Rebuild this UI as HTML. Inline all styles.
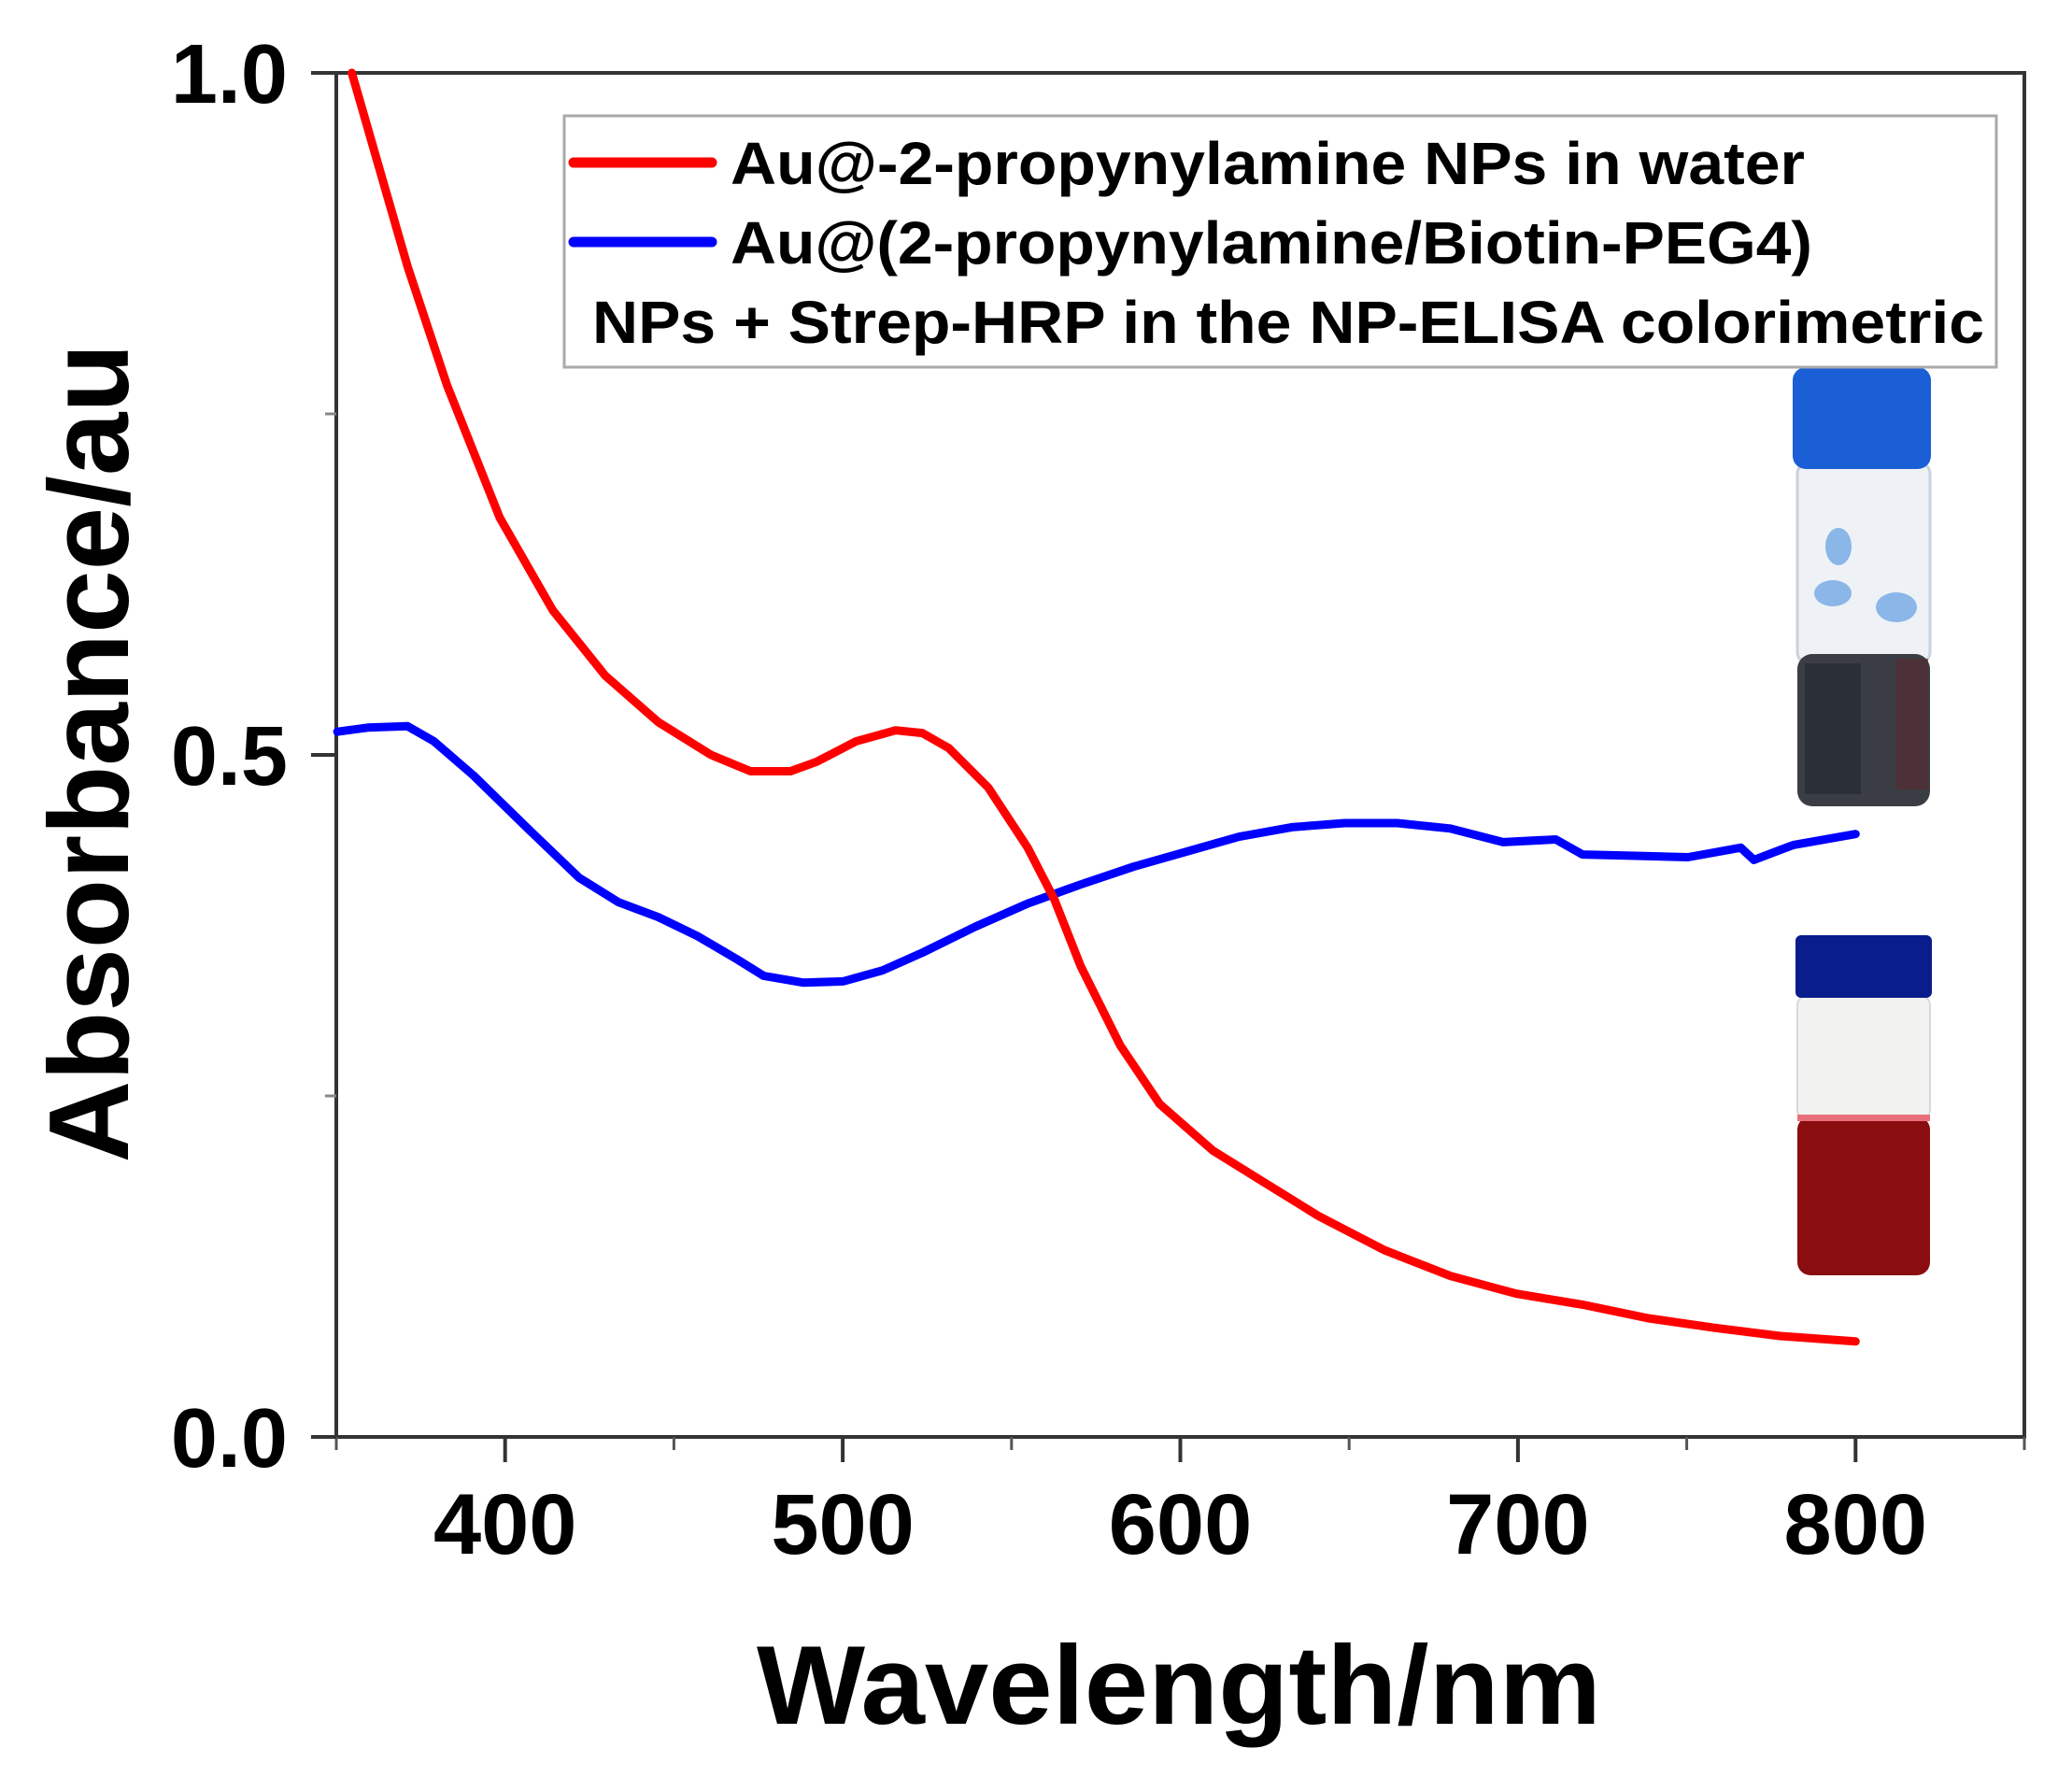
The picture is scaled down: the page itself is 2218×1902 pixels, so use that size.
<!DOCTYPE html>
<html><head><meta charset="utf-8"><style>
html,body{margin:0;padding:0;background:#fff}
svg{display:block}
text{font-family:"Liberation Sans",Arial,sans-serif;font-weight:bold;fill:#000}
</style></head><body>
<svg id="chart" width="2218" height="1902" viewBox="0 0 2218 1902" xmlns="http://www.w3.org/2000/svg">
<g id="axes"></g>
<g id="vials">
  <g>
    <rect x="1924" y="495" width="142" height="215" rx="12" fill="#eef2f6" stroke="#c9d3dc" stroke-width="3"/>
    <rect x="1924" y="700" width="142" height="163" rx="16" fill="#3a3d44"/>
    <rect x="1932" y="710" width="60" height="140" fill="#2b3038"/>
    <rect x="2030" y="705" width="34" height="140" fill="#5a2a30" opacity="0.6"/>
    <ellipse cx="1968" cy="585" rx="14" ry="20" fill="#8ab6e8"/>
    <ellipse cx="1962" cy="635" rx="20" ry="14" fill="#8ab6e8"/>
    <ellipse cx="2030" cy="650" rx="22" ry="16" fill="#8ab6e8"/>
    <rect x="1919" y="393" width="148" height="109" rx="14" fill="#1a5fd6"/>
  </g>
  <g>
    <rect x="1924" y="1066" width="142" height="132" rx="10" fill="#f2f2f0" stroke="#d9d9d9" stroke-width="2"/>
    <rect x="1924" y="1195" width="142" height="170" rx="14" fill="#8a0d0f"/>
    <rect x="1924" y="1193" width="142" height="7" fill="#e8707a"/>
    <rect x="1922" y="1001" width="146" height="67" rx="6" fill="#0a1d8c"/>
  </g>
</g>
<g id="series"></g>
<g id="legend">
  <rect x="604" y="124" width="1533" height="269" fill="#fff" stroke="#aaa" stroke-width="3"/>
  <line x1="614" y1="174" x2="762" y2="174" stroke="#ff0000" stroke-width="11" stroke-linecap="round"/>
  <text x="782" y="197" font-size="64" textLength="1150" lengthAdjust="spacingAndGlyphs">Au@-2-propynylamine NPs in water</text>
  <line x1="614" y1="259" x2="762" y2="259" stroke="#0000ff" stroke-width="11" stroke-linecap="round"/>
  <text x="782" y="282" font-size="64" textLength="1158" lengthAdjust="spacingAndGlyphs">Au@(2-propynylamine/Biotin-PEG4)</text>
  <text x="634" y="367" font-size="64" textLength="1490" lengthAdjust="spacingAndGlyphs">NPs + Strep-HRP in the NP-ELISA colorimetric</text>
</g>
<text x="1262" y="1845" font-size="120" text-anchor="middle" textLength="904" lengthAdjust="spacingAndGlyphs">Wavelength/nm</text>
<text transform="translate(137,806) rotate(-90)" font-size="122" text-anchor="middle" textLength="877" lengthAdjust="spacingAndGlyphs">Absorbance/au</text>
</svg>
<script>
const redX = [354.6,363.2,371.1,382.8,398.4,414.1,429.7,445.4,461.0,472.7,484.5,492.3,504.0,515.7,523.6,531.4,543.1,554.8,562.7,570.5,582.2,593.9,609.6,625.2,640.9,660.4,680.0,699.5,719.1,738.6,758.2,777.7,800];
const redY = [1.0,0.926,0.858,0.771,0.674,0.606,0.558,0.524,0.500,0.488,0.488,0.495,0.510,0.518,0.516,0.505,0.476,0.432,0.394,0.345,0.287,0.244,0.210,0.186,0.162,0.137,0.118,0.105,0.097,0.087,0.080,0.074,0.070];
const blueX = [350.3,359.3,371.1,378.9,390.6,406.3,421.9,433.6,445.4,457.1,468.8,476.6,488.4,500.1,511.8,523.6,539.2,554.8,570.5,586.1,601.7,617.4,633.0,648.7,664.3,680.0,695.6,711.2,719.1,734.7,750.4,766.0,769.9,781.6,800];
const blueY = [0.517,0.520,0.521,0.510,0.485,0.447,0.410,0.392,0.381,0.367,0.350,0.338,0.333,0.334,0.342,0.355,0.374,0.391,0.405,0.418,0.429,0.440,0.447,0.450,0.450,0.446,0.436,0.438,0.427,0.426,0.425,0.432,0.423,0.434,0.442];
const xTicks = [400,500,600,700,800];
const xMinor = [350,450,550,650,750,850];
const yTicks = [0.0,0.5,1.0];
const yTickLabels = ["0.0","0.5","1.0"];
const yMinor = [0.25,0.75];

const NS = "http://www.w3.org/2000/svg";
const X0=360, X1=2167, Y0=1538, Y1=78, XMIN=350, XMAX=850, YMIN=0, YMAX=1;
function sx(v){return X0+(v-XMIN)*(X1-X0)/(XMAX-XMIN);}
function sy(v){return Y0-(v-YMIN)*(Y0-Y1)/(YMAX-YMIN);}
function mk(tag, attrs, parent){const e=document.createElementNS(NS,tag);for(const k in attrs)e.setAttribute(k,attrs[k]);parent.appendChild(e);return e;}

const axes=document.getElementById('axes');
let el;
el=mk('rect',{x:X0,y:Y1,width:X1-X0,height:Y0-Y1,fill:'none',stroke:'#333',"stroke-width":4},axes);


xTicks.forEach(t=>{
  el=mk('line',{x1:sx(t),x2:sx(t),y1:Y0,y2:Y0+27,stroke:'#333',"stroke-width":4},axes);
  
  
  el=mk('text',{x:sx(t),y:1663,"font-size":92,"text-anchor":"middle"},axes);
  el.textContent=t;
  
  
});
xMinor.forEach(t=>{
  el=mk('line',{x1:sx(t),x2:sx(t),y1:Y0,y2:Y0+14,stroke:'#555',"stroke-width":3},axes);
  
  
});
yTicks.forEach((t,i)=>{
  el=mk('line',{x1:X0-27,x2:X0,y1:sy(t),y2:sy(t),stroke:'#333',"stroke-width":4},axes);
  
  
  el=mk('text',{x:308,y:sy(t)+32,"font-size":90,"text-anchor":"end"},axes);
  el.textContent=yTickLabels[i];
  
  
});
yMinor.forEach(t=>{
  el=mk('line',{x1:X0-12,x2:X0,y1:sy(t),y2:sy(t),stroke:'#888',"stroke-width":3},axes);
  
  
});

const series=document.getElementById('series');
function pathOf(xs,ys){return xs.map((x,i)=>(i?'L':'M')+sx(x).toFixed(1)+','+sy(ys[i]).toFixed(1)).join(' ');}
el=mk('path',{d:pathOf(blueX,blueY),fill:'none',stroke:'#0000ff',"stroke-width":9,"stroke-linejoin":"round","stroke-linecap":"round"},series);


el=mk('path',{d:pathOf(redX,redY),fill:'none',stroke:'#ff0000',"stroke-width":9,"stroke-linejoin":"round","stroke-linecap":"round"},series);


</script>
</body></html>
